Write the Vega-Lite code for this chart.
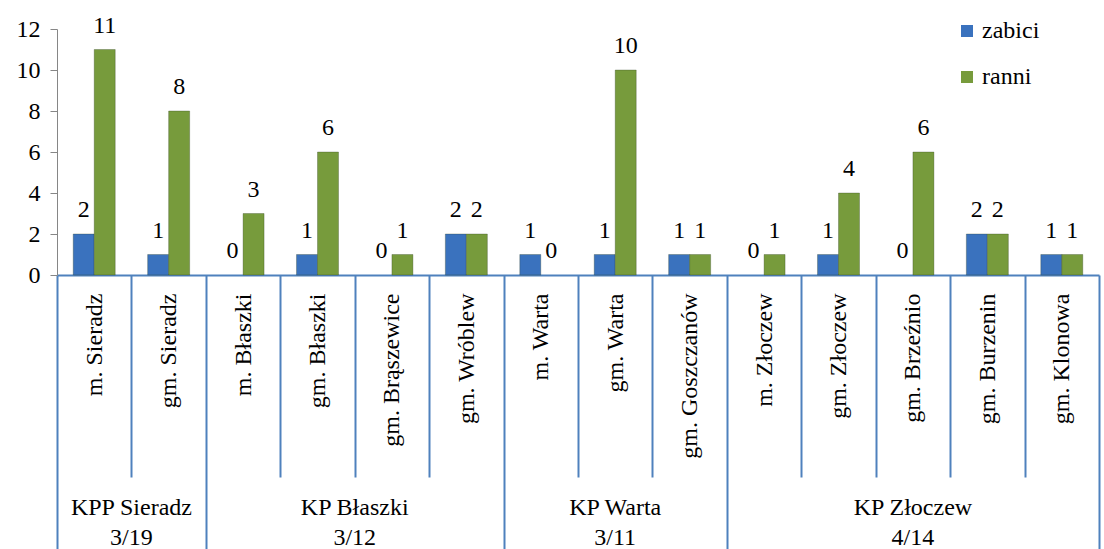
{
  "$schema": "https://vega.github.io/schema/vega-lite/v6.json",
  "width": 1042,
  "height": 246,
  "autosize": {"type": "none"},
  "padding": {"left": 57, "top": 29, "right": 5, "bottom": 274},
  "background": "white",
  "config": {
    "view": {"stroke": null},
    "font": "Liberation Serif",
    "text": {"font": "Liberation Serif", "fontSize": 24, "color": "black"}
  },
  "datasets": {
    "main": [
      {"cat": "m. Sieradz", "group": "KPP Sieradz", "series": "zabici", "value": 2},
      {"cat": "m. Sieradz", "group": "KPP Sieradz", "series": "ranni", "value": 11},
      {"cat": "gm. Sieradz", "group": "KPP Sieradz", "series": "zabici", "value": 1},
      {"cat": "gm. Sieradz", "group": "KPP Sieradz", "series": "ranni", "value": 8},
      {"cat": "m. Błaszki", "group": "KP Błaszki", "series": "zabici", "value": 0},
      {"cat": "m. Błaszki", "group": "KP Błaszki", "series": "ranni", "value": 3},
      {"cat": "gm. Błaszki", "group": "KP Błaszki", "series": "zabici", "value": 1},
      {"cat": "gm. Błaszki", "group": "KP Błaszki", "series": "ranni", "value": 6},
      {"cat": "gm. Brąszewice", "group": "KP Błaszki", "series": "zabici", "value": 0},
      {"cat": "gm. Brąszewice", "group": "KP Błaszki", "series": "ranni", "value": 1},
      {"cat": "gm. Wróblew", "group": "KP Błaszki", "series": "zabici", "value": 2},
      {"cat": "gm. Wróblew", "group": "KP Błaszki", "series": "ranni", "value": 2},
      {"cat": "m. Warta", "group": "KP Warta", "series": "zabici", "value": 1},
      {"cat": "m. Warta", "group": "KP Warta", "series": "ranni", "value": 0},
      {"cat": "gm. Warta", "group": "KP Warta", "series": "zabici", "value": 1},
      {"cat": "gm. Warta", "group": "KP Warta", "series": "ranni", "value": 10},
      {"cat": "gm. Goszczanów", "group": "KP Warta", "series": "zabici", "value": 1},
      {"cat": "gm. Goszczanów", "group": "KP Warta", "series": "ranni", "value": 1},
      {"cat": "m. Złoczew", "group": "KP Złoczew", "series": "zabici", "value": 0},
      {"cat": "m. Złoczew", "group": "KP Złoczew", "series": "ranni", "value": 1},
      {"cat": "gm. Złoczew", "group": "KP Złoczew", "series": "zabici", "value": 1},
      {"cat": "gm. Złoczew", "group": "KP Złoczew", "series": "ranni", "value": 4},
      {"cat": "gm. Brzeźnio", "group": "KP Złoczew", "series": "zabici", "value": 0},
      {"cat": "gm. Brzeźnio", "group": "KP Złoczew", "series": "ranni", "value": 6},
      {"cat": "gm. Burzenin", "group": "KP Złoczew", "series": "zabici", "value": 2},
      {"cat": "gm. Burzenin", "group": "KP Złoczew", "series": "ranni", "value": 2},
      {"cat": "gm. Klonowa", "group": "KP Złoczew", "series": "zabici", "value": 1},
      {"cat": "gm. Klonowa", "group": "KP Złoczew", "series": "ranni", "value": 1}
    ]
  },
  "layer": [
    {
      "data": {"name": "main"},
      "transform": [{"filter": "datum.value > 0"}],
      "mark": {"type": "bar", "stroke": "#2b3a1f", "strokeOpacity": 0.3, "strokeWidth": 1},
      "encoding": {
        "x": {
          "field": "cat",
          "type": "nominal",
          "scale": {"domain": ["m. Sieradz", "gm. Sieradz", "m. Błaszki", "gm. Błaszki", "gm. Brąszewice", "gm. Wróblew", "m. Warta", "gm. Warta", "gm. Goszczanów", "m. Złoczew", "gm. Złoczew", "gm. Brzeźnio", "gm. Burzenin", "gm. Klonowa"], "paddingInner": 0, "paddingOuter": 0},
          "axis": {
            "title": null,
            "labelAngle": -90,
            "labelFont": "Liberation Serif",
            "labelFontSize": 24,
            "labelColor": "black",
            "domainColor": "#4F81BD",
            "domainWidth": 2,
            "tickColor": "#4F81BD",
            "tickWidth": 2,
            "tickBand": "extent",
            "tickSize": {"condition": {"test": "datum.extra || indexof(['gm. Sieradz','gm. Wróblew','gm. Goszczanów','gm. Klonowa'], datum.value) >= 0", "value": 274}, "value": 202},
            "labelPadding": {"condition": {"test": "indexof(['gm. Sieradz','gm. Wróblew','gm. Goszczanów','gm. Klonowa'], datum.value) >= 0", "value": -256}, "value": -184}
          }
        },
        "xOffset": {
          "field": "series",
          "type": "nominal",
          "scale": {"domain": ["zabici", "ranni"], "paddingInner": 0, "paddingOuter": 0.772}
        },
        "y": {
          "field": "value",
          "type": "quantitative",
          "scale": {"domain": [0, 12]},
          "axis": {
            "title": null,
            "values": [0, 2, 4, 6, 8, 10, 12],
            "grid": false,
            "domainColor": "#868686",
            "tickColor": "#868686",
            "tickSize": 7,
            "labelPadding": 10,
            "labelFont": "Liberation Serif",
            "labelFontSize": 24,
            "labelColor": "black"
          }
        },
        "color": {
          "field": "series",
          "type": "nominal",
          "scale": {"domain": ["zabici", "ranni"], "range": ["#3A72BE", "#779B3C"]},
          "legend": {
            "title": null,
            "orient": "none",
            "legendX": 898,
            "legendY": -10,
            "symbolType": "square",
            "symbolSize": 144,
            "symbolStrokeWidth": 0,
            "labelFont": "Liberation Serif",
            "labelFontSize": 24,
            "labelColor": "black",
            "labelOffset": 3,
            "rowPadding": 22
          }
        }
      }
    },
    {
      "data": {"name": "main"},
      "mark": {"type": "text", "baseline": "alphabetic", "dy": -17, "font": "Liberation Serif", "fontSize": 24},
      "encoding": {
        "x": {"field": "cat", "type": "nominal"},
        "xOffset": {"field": "series", "type": "nominal"},
        "y": {"field": "value", "type": "quantitative"},
        "text": {"field": "value", "type": "quantitative"}
      }
    },
    {
      "data": {"values": [
        {"anchor": "gm. Sieradz", "label": "KPP Sieradz\n3/19"},
        {"anchor": "gm. Brąszewice", "label": "KP Błaszki\n3/12"}
      ]},
      "mark": {"type": "text", "baseline": "alphabetic", "lineBreak": "\n", "lineHeight": 30, "dy": 240, "font": "Liberation Serif", "fontSize": 24},
      "encoding": {
        "x": {"field": "anchor", "type": "nominal", "bandPosition": 0},
        "y": {"datum": 0, "type": "quantitative"},
        "text": {"field": "label", "type": "nominal"}
      }
    },
    {
      "data": {"values": [
        {"anchor": "gm. Warta", "label": "KP Warta\n3/11"},
        {"anchor": "gm. Brzeźnio", "label": "KP Złoczew\n4/14"}
      ]},
      "mark": {"type": "text", "baseline": "alphabetic", "lineBreak": "\n", "lineHeight": 30, "dy": 240, "font": "Liberation Serif", "fontSize": 24},
      "encoding": {
        "x": {"field": "anchor", "type": "nominal", "bandPosition": 0.5},
        "y": {"datum": 0, "type": "quantitative"},
        "text": {"field": "label", "type": "nominal"}
      }
    }
  ]
}
